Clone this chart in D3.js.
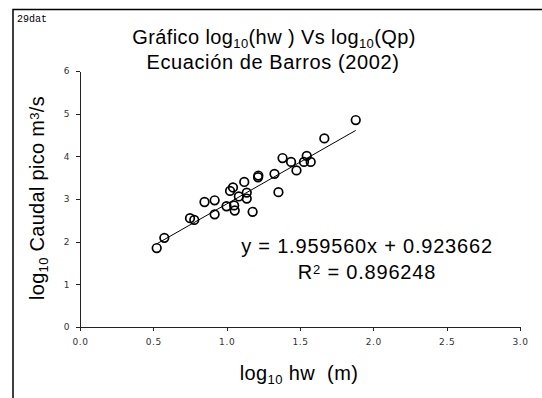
<!DOCTYPE html>
<meta charset='utf-8'>
<style>
    body { margin: 0; background: #fff; }
    svg { display: block; }
    .axis path, .axis line { fill: none; stroke: #222; shape-rendering: crispEdges; }
    .axis text { font: 9px 'DejaVu Sans', sans-serif; fill: #333; letter-spacing: 0.6px; }
    .lbl { font-family: 'Liberation Sans', Arial, sans-serif; fill: #000; white-space: pre; }
</style>
<body>
<script src='https://cdnjs.cloudflare.com/ajax/libs/d3/7.8.5/d3.min.js'></script>
<script>
    // log10 hw (m)
    const hw = [0.523, 0.575, 0.750, 0.779, 0.849, 0.918, 0.918, 0.999, 1.023, 1.043,
                1.051, 1.055, 1.083, 1.120, 1.137, 1.137, 1.177, 1.214, 1.216, 1.326,
                1.353, 1.381, 1.439, 1.476, 1.546, 1.527, 1.573, 1.666, 1.880];
    // log10 Qp (m3/s)
    const qp = [1.85, 2.09, 2.55, 2.51, 2.93, 2.97, 2.64, 2.83, 3.19, 3.27,
                2.85, 2.73, 3.06, 3.40, 3.15, 3.01, 2.70, 3.51, 3.55, 3.59,
                3.16, 3.96, 3.87, 3.67, 4.01, 3.87, 3.87, 4.42, 4.85];
    const slope = 1.959560, intercept = 0.923662;
    const xTicks = [0, 0.5, 1, 1.5, 2, 2.5, 3];
    const yTicks = [0, 1, 2, 3, 4, 5, 6];

    const W = 542, H = 398;
    const svg = d3.select('body').append('svg')
        .attr('width', W).attr('height', H);

    // frame
    svg.append('path')
        .attr('d', `M13,${H} L13,9.5 L${W},9.5`)
        .attr('fill', 'none').attr('stroke', '#000').attr('stroke-width', 1.5);

    svg.append('text')
        .attr('x', 17).attr('y', 22)
        .style('font', "10px 'Liberation Mono', monospace")
        .text('29dat');

    const x = d3.scaleLinear().domain([0, 3]).range([80, 520]);
    const y = d3.scaleLinear().domain([0, 6]).range([327, 71]);

    svg.append('g').attr('class', 'axis')
        .attr('transform', 'translate(0,327)')
        .call(d3.axisBottom(x).tickValues(xTicks).tickSize(4).tickSizeOuter(0)
            .tickPadding(8).tickFormat(d3.format('.1f')));

    svg.append('g').attr('class', 'axis')
        .attr('transform', 'translate(80,0)')
        .call(d3.axisLeft(y).tickValues(yTicks).tickSize(4).tickSizeOuter(0)
            .tickPadding(6).tickFormat(d3.format('d')));

    // trend line
    const xMin = d3.min(hw), xMax = d3.max(hw);
    svg.append('line')
        .attr('x1', x(xMin)).attr('y1', y(slope * xMin + intercept))
        .attr('x2', x(xMax)).attr('y2', y(slope * xMax + intercept))
        .attr('stroke', '#000').attr('stroke-width', 1);

    // points
    svg.selectAll('.pt')
        .data(hw.map((d, i) => [d, qp[i]]))
        .enter().append('circle')
            .attr('class', 'pt')
            .attr('cx', d => x(d[0]))
            .attr('cy', d => y(d[1]))
            .attr('r', 4.3)
            .attr('fill', 'none')
            .attr('stroke', '#000')
            .attr('stroke-width', 1.7);

    const sub = (t, s) => t.append('tspan').attr('baseline-shift', '-30%').style('font-size', '13px').text(s);
    const sup = (t, s) => t.append('tspan').attr('baseline-shift', '40%').style('font-size', '13px').text(s);

    // titles
    const t1 = svg.append('text').attr('class', 'lbl')
        .attr('x', 274).attr('y', 44)
        .attr('text-anchor', 'middle').style('font-size', '20px').style('letter-spacing', '0.4px');
    t1.append('tspan').text('Gráfico log');
    sub(t1, '10');
    t1.append('tspan').text('(hw ) Vs log');
    sub(t1, '10');
    t1.append('tspan').text('(Qp)');

    svg.append('text').attr('class', 'lbl')
        .attr('x', 273).attr('y', 69)
        .attr('text-anchor', 'middle').style('font-size', '20px').style('letter-spacing', '0.6px')
        .text('Ecuación de Barros (2002)');

    const xt = svg.append('text').attr('class', 'lbl')
        .attr('x', 299).attr('y', 380)
        .attr('text-anchor', 'middle').style('font-size', '20px').style('letter-spacing', '0.4px');
    xt.append('tspan').text('log');
    sub(xt, '10');
    xt.append('tspan').text(' hw  (m)');

    const yt = svg.append('text').attr('class', 'lbl')
        .attr('transform', 'translate(44,198) rotate(-90)')
        .attr('text-anchor', 'middle').style('font-size', '20px').style('letter-spacing', '0.3px');
    yt.append('tspan').text('log');
    sub(yt, '10');
    yt.append('tspan').text(' Caudal pico m');
    sup(yt, '3');
    yt.append('tspan').text('/s');

    // equation
    svg.append('text').attr('class', 'lbl')
        .attr('x', 367).attr('y', 253)
        .attr('text-anchor', 'middle').style('font-size', '20px').style('letter-spacing', '0.8px')
        .text('y = 1.959560x + 0.923662');
    const r2 = svg.append('text').attr('class', 'lbl')
        .attr('x', 367).attr('y', 279)
        .attr('text-anchor', 'middle').style('font-size', '20px').style('letter-spacing', '0.8px');
    r2.append('tspan').text('R');
    sup(r2, '2');
    r2.append('tspan').text(' = 0.896248');
</script>
</body>
